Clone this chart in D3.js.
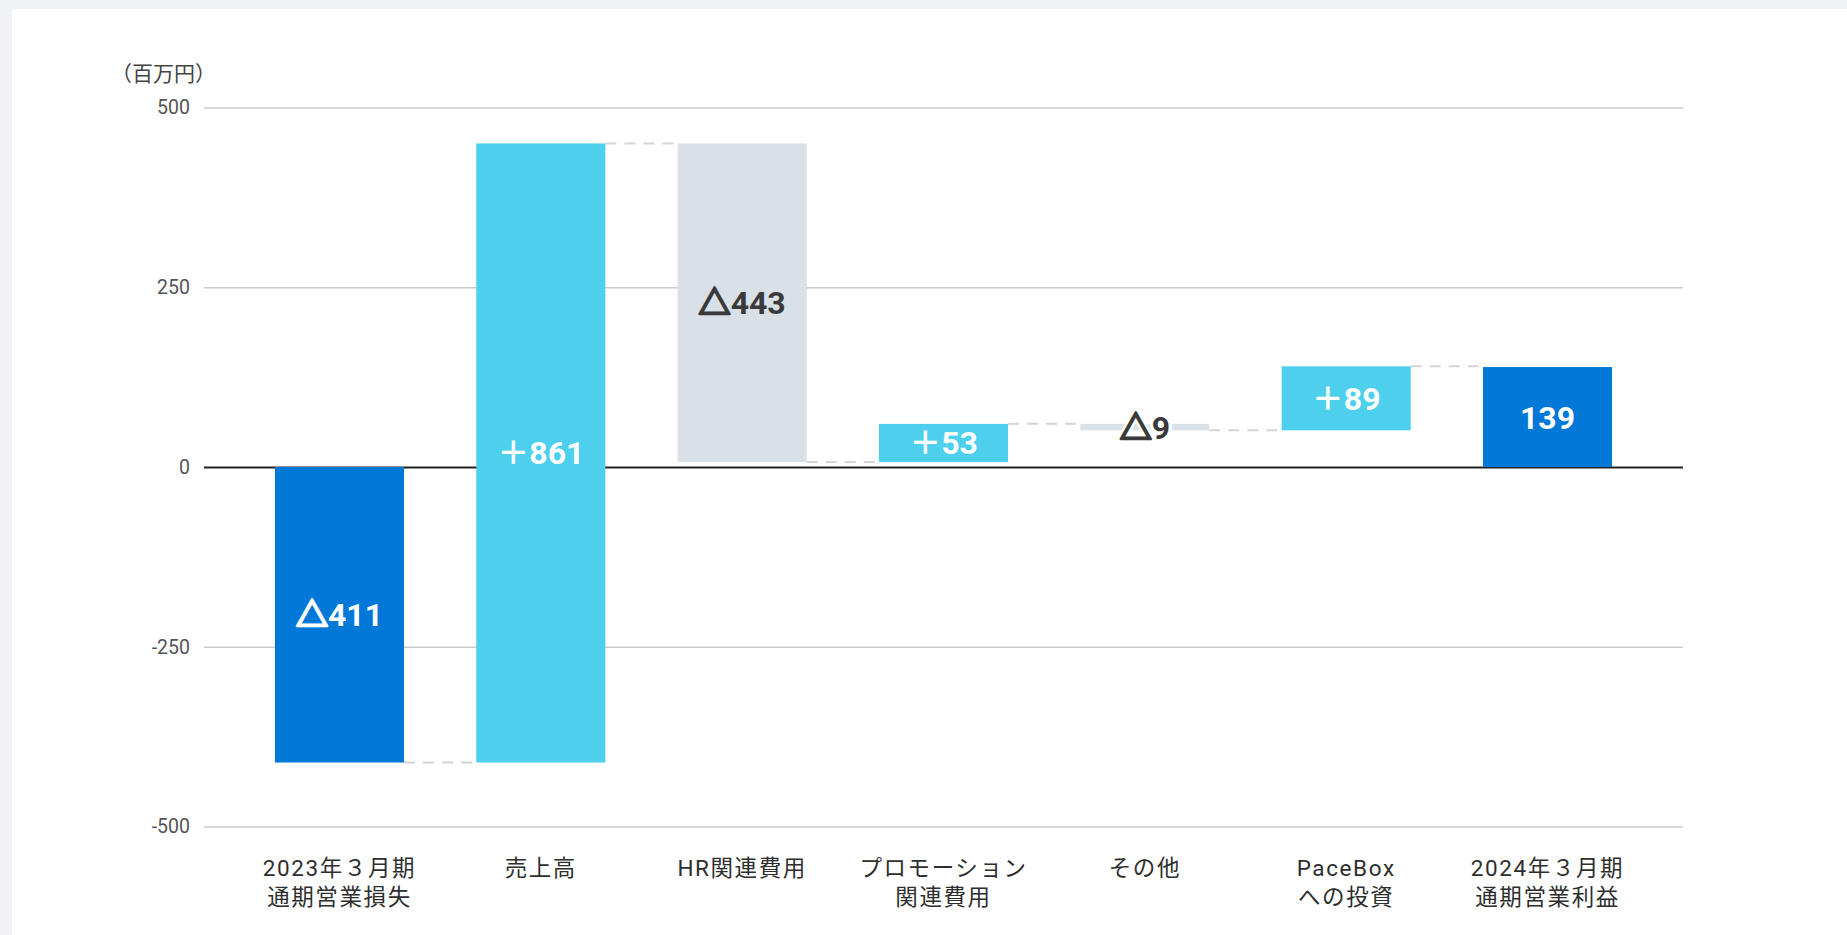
<!DOCTYPE html>
<html lang="ja">
<head>
<meta charset="utf-8">
<script src="https://cdn.jsdelivr.net/npm/d3@7"></script>
<style>
  html, body { margin: 0; padding: 0; background: #f0f2f5; }
  svg { display: block; }
  .font { font-family: Roboto, "Noto Sans CJK JP", sans-serif; }
</style>
</head>
<body>
<svg id="chart" width="1847" height="935"></svg>
<script>
// Operating profit bridge FY2023/3 -> FY2024/3 (million yen)
const categories = [
  ["2023年３月期", "通期営業損失"],
  ["売上高"],
  ["HR関連費用"],
  ["プロモーション", "関連費用"],
  ["その他"],
  ["PaceBox", "への投資"],
  ["2024年３月期", "通期営業利益"]
];
const values = [-411, 861, -443, 53, -9, 89, 139];
const kinds = ["total", "increase", "decrease", "increase", "decrease", "increase", "total"];
const yTicks = [-500, -250, 0, 250, 500];
const unitLabel = "（百万円）";

const colors = { total: "#0078d7", increase: "#4dcfee", decrease: "#d9e0e8" };
const labelColors = { total: "#ffffff", increase: "#ffffff", decrease: "#3a3a3a" };

const W = 1847, H = 935;
const svg = d3.select("#chart");

// white panel
svg.append("rect").attr("x", 12).attr("y", 9).attr("width", W - 12).attr("height", H - 9).attr("fill", "#ffffff");

const gridLeft = 204, gridRight = 1683;
const y = d3.scaleLinear().domain([-500, 500]).range([826.5, 107.5]);
const x = d3.scaleBand()
  .domain(categories.map((d, i) => i))
  .range([238.8, 1648.2])
  .paddingInner(0.359)
  .paddingOuter(0.1795);

// running totals
let run = 0;
const bars = values.map((v, i) => {
  let start, end;
  if (kinds[i] === "total") { start = 0; end = v; }
  else { start = run; end = run + v; }
  run = end;
  return { i, v, kind: kinds[i], start, end };
});
const barHeight = d => Math.abs(y(d.start) - y(d.end));

function labelParts(d) {
  const n = String(Math.abs(d.v));
  if (d.v < 0) return ["△", n];
  return d.kind === "total" ? ["", n] : ["＋", n];
}

// gridlines + y axis
const yAxis = d3.axisLeft(y).tickValues(yTicks).tickSize(-(gridRight - gridLeft)).tickPadding(14).tickFormat(d => String(d));
const gy = svg.append("g").attr("transform", `translate(${gridLeft},0)`).attr("class", "font").call(yAxis);
gy.select(".domain").remove();
gy.selectAll(".tick line")
  .attr("stroke", d => d === 0 ? "#222222" : "#cccccc")
  .attr("stroke-width", d => d === 0 ? 2 : 1.5);
gy.selectAll(".tick text").attr("fill", "#555555").attr("font-size", 19.5);

// unit label
svg.append("text").attr("class", "font")
  .attr("x", 111).attr("y", 81)
  .attr("font-size", 21).attr("fill", "#444444")
  .text(unitLabel);

// connectors
const conn = svg.append("g");
bars.slice(0, -1).forEach(d => {
  conn.append("line")
    .attr("x1", x(d.i) + x.bandwidth())
    .attr("x2", x(d.i + 1))
    .attr("y1", y(d.end)).attr("y2", y(d.end))
    .attr("stroke", "#d4d4d4").attr("stroke-width", 2)
    .attr("stroke-dasharray", "11,8");
});

// bars
svg.append("g").selectAll("rect").data(bars).join("rect")
  .attr("x", d => x(d.i))
  .attr("width", x.bandwidth())
  .attr("y", d => y(Math.max(d.start, d.end)))
  .attr("height", barHeight)
  .attr("fill", d => colors[d.kind]);

// value labels (white halo layer for labels larger than their bar, then the text)
function buildLabel(sel, halo) {
  sel.attr("x", d => x(d.i) + x.bandwidth() / 2)
    .attr("y", d => y((d.start + d.end) / 2))
    .attr("dy", "0.36em")
    .attr("text-anchor", "middle")
    .attr("font-size", 32)
    .attr("font-weight", "bold")
    .attr("fill", d => halo ? "#ffffff" : labelColors[d.kind])
    .attr("stroke", d => halo ? "#ffffff" : "none")
    .attr("stroke-width", halo ? 7 : 0)
    .attr("stroke-linejoin", "round");
  sel.each(function(d) {
    const [sign, num] = labelParts(d);
    const t = d3.select(this);
    if (sign === "△") {
      t.append("tspan")
        .attr("stroke", halo ? "#ffffff" : labelColors[d.kind])
        .attr("stroke-width", halo ? 7 : 2.4)
        .attr("stroke-linejoin", "round")
        .text(sign);
    } else if (sign) {
      t.append("tspan").text(sign);
    }
    t.append("tspan").text(num);
  });
}
const labelG = svg.append("g").attr("class", "font");
labelG.selectAll("text.halo").data(bars.filter(d => barHeight(d) < 30)).join("text")
  .attr("class", "halo").call(buildLabel, true);
labelG.selectAll("text.value").data(bars).join("text")
  .attr("class", "value").call(buildLabel, false);

// category labels
const xAxis = d3.axisBottom(x).tickSize(0).tickFormat(() => "");
const gx = svg.append("g").attr("transform", `translate(0,${y(-500)})`).attr("class", "font").call(xAxis);
gx.select(".domain").remove();
gx.selectAll(".tick text").remove();
gx.selectAll(".tick").append("text")
  .attr("text-anchor", "middle")
  .attr("fill", "#2e2e2e")
  .attr("font-size", 22.5)
  .attr("letter-spacing", "1.6px")
  .each(function(i) {
    const t = d3.select(this);
    categories[i].forEach((line, j) => {
      t.append("tspan").attr("x", 0).attr("y", 49 + j * 29.5).text(line);
    });
  });
</script>
</body>
</html>
